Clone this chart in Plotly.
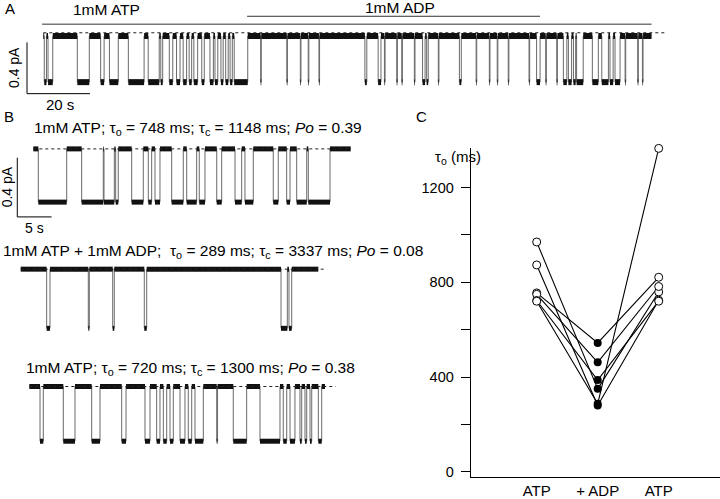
import plotly.graph_objects as go

W, H = 720, 499
FONT = "Liberation Sans, Arial, sans-serif"

# ---------------- data ----------------
# Panel A: closures (s) of a continuous recording
a_end = 193.1
a_closures = [(0.3, 1.0), (1.5, 3.0), (10.8, 14.6), (18.2, 19.3), (21.0, 23.8), (27.0, 32.0),
              (33.3, 36.8), (37.3, 37.9), (40.0, 41.1), (42.3, 43.4), (44.4, 45.5), (46.3, 47.1),
              (47.8, 49.0), (50.3, 51.1), (52.9, 54.0), (54.5, 55.4), (56.4, 57.1), (57.9, 58.7),
              (59.3, 60.0), (60.6, 64.9), (69.0, 69.2), (77.3, 77.5), (81.6, 81.8), (84.1, 84.3),
              (87.5, 87.7), (102.1, 102.7), (106.3, 107.2), (108.3, 108.5), (112.2, 112.4),
              (113.8, 114.0), (117.8, 118.0), (120.4, 121.2), (121.7, 122.2), (125.4, 125.6),
              (132.1, 132.7), (137.4, 137.6), (141.6, 141.8), (144.1, 144.3), (147.6, 147.8),
              (154.2, 154.4), (156.6, 157.7), (159.5, 159.7), (163.0, 163.2), (165.1, 166.2),
              (166.7, 167.7), (168.3, 169.0), (169.3, 171.4), (174.3, 176.2), (177.3, 179.4),
              (179.9, 180.9), (181.5, 183.1), (184.7, 184.9), (188.7, 188.9), (190.2, 190.4)]
a_amp = 0.36
adp_period = (64.7, 157.7)

# Panel B traces
b1_end = 46.2
b1_closures = [(0.73, 4.86), (7.04, 10.19), (10.29, 11.79), (11.99, 12.37), (14.32, 16.01),
               (16.74, 17.23), (17.71, 18.44), (20.14, 21.83), (22.33, 23.78), (24.16, 24.99),
               (26.7, 27.42), (29.36, 30.33), (30.81, 32.02), (34.93, 35.66), (36.88, 37.37),
               (38.34, 39.8), (40.03, 43.19)]
b1_amp = 0.36
b2_end = 43.32
b2_closures = [(3.78, 4.26), (9.84, 9.99), (13.39, 13.62), (17.99, 18.34), (37.89, 38.81), (39.05, 39.45)]
b2_amp = 0.40
b3_end = 43.04
b3_closures = [(1.56, 2.04), (4.95, 6.65), (9.08, 10.29), (13.45, 14.08), (16.84, 17.57),
               (18.54, 19.02), (19.51, 20.0), (20.48, 20.96), (21.94, 22.66), (23.14, 23.64),
               (24.12, 25.33), (27.28, 27.4), (29.69, 31.64), (33.58, 36.49), (36.97, 37.47),
               (37.95, 38.67), (39.4, 39.65), (40.13, 40.38), (40.86, 41.11), (42.07, 42.56)]
b3_amp = 0.37

# Panel C: tau_o (ms) per patch: ATP, ATP+ADP, ATP
conditions = ["ATP", "+ ADP", "ATP"]
tau_atp1 = [970, 873, 755, 749, 723, 720]
tau_adp = [350, 280, 544, 462, 387, 287]
tau_atp2 = [759, 724, 821, 782, 720, 1365]

# ---------------- helpers ----------------
def px(x):
    return x / W

def py(y):
    return 1 - y / H

def step_xy(end, closures, amp):
    xs, ys = [0], [0]
    for a, b in closures:
        xs += [a, a, b, b]
        ys += [0, -amp, -amp, 0]
    xs.append(end)
    ys.append(0)
    return xs, ys

def bands(end, closures, amp):
    ox, oy, cx, cy = [], [], [], []
    prev = 0
    for a, b in closures:
        ox += [prev, a, None]; oy += [0, 0, None]
        cx += [a, b, None]; cy += [-amp, -amp, None]
        prev = b
    ox += [prev, end]; oy += [0, 0]
    return ox, oy, cx, cy

fig = go.Figure()

# trace axes: (suffix, t0 pixel, px per s, open-level pixel, px per pA, ...)
trace_specs = [
    ("", 43.3, 3.15, 36.5, 130, a_end, a_closures, a_amp, 6, 197.5),
    ("2", 33.3, 6.87, 151, 150, b1_end, b1_closures, b1_amp, 5, 46.2),
    ("3", 20.7, 6.87, 273, 150, b2_end, b2_closures, b2_amp, 5, 44.3),
    ("4", 29.3, 6.87, 392, 150, b3_end, b3_closures, b3_amp, 5, 44.6),
]

layout_axes = {}
for suf, t0, sx, oy0, sy, end, clos, amp, bw, dot_end in trace_specs:
    xa = "x" + suf
    ya = "y" + suf
    xs, ys = step_xy(end, clos, amp)
    ox, oy, cx, cy = bands(end, clos, amp)
    fig.add_trace(go.Scatter(x=xs, y=ys, mode="lines", line=dict(color="#6a6a6a", width=1),
                             xaxis=xa, yaxis=ya, showlegend=False, hoverinfo="skip"))
    fig.add_trace(go.Scatter(x=ox, y=oy, mode="lines", line=dict(color="#111", width=bw),
                             xaxis=xa, yaxis=ya, showlegend=False, hoverinfo="skip"))
    fig.add_trace(go.Scatter(x=cx, y=cy, mode="lines", line=dict(color="#111", width=bw),
                             xaxis=xa, yaxis=ya, showlegend=False, hoverinfo="skip"))
    dy = 0.025 if suf == "" else 0
    fig.add_trace(go.Scatter(x=[0, dot_end], y=[dy, dy],
                             mode="lines", line=dict(color="#222", width=1, dash="dot"),
                             xaxis=xa, yaxis=ya, showlegend=False, hoverinfo="skip"))
    layout_axes["xaxis" + suf] = dict(domain=[0, 1], range=[-t0 / sx, (W - t0) / sx], visible=False,
                                      anchor=ya, fixedrange=True)
    layout_axes["yaxis" + suf] = dict(domain=[0, 1], range=[(oy0 - H) / sy, oy0 / sy], visible=False,
                                      anchor=xa, fixedrange=True)

# Panel C
for i in range(len(tau_atp1)):
    fig.add_trace(go.Scatter(x=[0, 1, 2], y=[tau_atp1[i], tau_adp[i], tau_atp2[i]], mode="lines",
                             line=dict(color="black", width=1.1), xaxis="x5", yaxis="y5",
                             showlegend=False, cliponaxis=False, hoverinfo="skip"))
fig.add_trace(go.Scatter(x=[0] * len(tau_atp1) + [2] * len(tau_atp2), y=tau_atp1 + tau_atp2,
                         mode="markers", marker=dict(symbol="circle", size=8, color="white",
                                                     line=dict(color="black", width=1)),
                         xaxis="x5", yaxis="y5", showlegend=False, cliponaxis=False))
fig.add_trace(go.Scatter(x=[1] * len(tau_adp), y=tau_adp, mode="markers",
                         marker=dict(symbol="circle", size=8, color="black"),
                         xaxis="x5", yaxis="y5", showlegend=False, cliponaxis=False))

c_ppu = 0.2403
c_zero_px = 478.5
c_bottom_px = 483.5
c_top_val = 1368
c_top_px = c_zero_px - c_top_val * c_ppu
layout_axes["xaxis5"] = dict(domain=[px(470.7), 1], range=[-66 / 61, (720 - 536.7) / 61],
                             tickvals=[0, 1, 2], ticktext=conditions, showline=True,
                             linecolor="black", linewidth=1, ticks="", showgrid=False,
                             zeroline=False, anchor="y5", tickfont=dict(size=15, family=FONT, color="black"),
                             fixedrange=True)
layout_axes["yaxis5"] = dict(domain=[py(c_bottom_px), py(c_top_px)],
                             range=[(c_zero_px - c_bottom_px) / c_ppu, c_top_val],
                             tickvals=[0, 200, 400, 600, 800, 1000, 1200],
                             ticktext=["0", "", "400", "", "800", "", "1200"],
                             ticks="outside", ticklen=9, tickcolor="black", tickwidth=1,
                             showline=True, linecolor="black", linewidth=1, showgrid=False,
                             zeroline=False, anchor="x5", ticklabelstandoff=4,
                             tickfont=dict(size=14.5, family=FONT, color="black"), fixedrange=True)

# shapes: scale bars and condition bars
shapes = []
line_k = dict(color="black", width=1)
shapes.append(dict(type="line", xref="x", yref="y", x0=-5.17, x1=-5.17, y0=-0.45, y1=-0.05, line=line_k))
shapes.append(dict(type="line", xref="x", yref="y", x0=-5.17, x1=14.83, y0=-0.45, y1=-0.45, line=line_k))
shapes.append(dict(type="line", xref="x", yref="paper", x0=-0.4, x1=a_end, y0=py(24.5), y1=py(24.5),
                   line=dict(color="#333", width=1)))
shapes.append(dict(type="line", xref="x", yref="paper", x0=adp_period[0], x1=adp_period[1],
                   y0=py(16.5), y1=py(16.5), line=dict(color="#333", width=1)))
shapes.append(dict(type="line", xref="x2", yref="y2", x0=-2.33, x1=-2.33, y0=-0.46, y1=-0.06, line=line_k))
shapes.append(dict(type="line", xref="x2", yref="y2", x0=-2.33, x1=2.67, y0=-0.46, y1=-0.46, line=line_k))

ann = []
def text(x, y, s, size=14, xanchor="center", angle=0):
    ann.append(dict(x=px(x), y=py(y), xref="paper", yref="paper", text=s, showarrow=False,
                    xanchor=xanchor, yanchor="middle", textangle=angle,
                    font=dict(size=size, family=FONT, color="black")))

text(3, 9, "A", 15, "left")
text(2, 118, "B", 15, "left")
text(414, 118, "C", 15, "left")
text(106, 10, "1mM ATP", 15.5)
text(400, 8, "1mM ADP", 15.5)
text(14, 69, "0.4 pA", 14, angle=-90)
text(60, 106, "20 s", 15)
text(7, 190, "0.4 pA", 14, angle=-90)
text(34, 231, "5 s", 14)
text(32, 130, "1mM ATP; τ<sub>o</sub> = 748 ms; τ<sub>c</sub> = 1148 ms; <i>Po</i> = 0.39", 15.5, "left")
text(1, 255, "1mM ATP + 1mM ADP;  τ<sub>o</sub> = 289 ms; τ<sub>c</sub> = 3337 ms; <i>Po</i> = 0.08", 15.5, "left")
text(24, 374, "1mM ATP; τ<sub>o</sub> = 720 ms; τ<sub>c</sub> = 1300 ms; <i>Po</i> = 0.38", 15.5, "left")
text(433, 160, "τ<sub>o</sub> (ms)", 15, "left")

fig.update_layout(width=W, height=H, margin=dict(l=0, r=0, t=0, b=0),
                  paper_bgcolor="white", plot_bgcolor="rgba(0,0,0,0)",
                  shapes=shapes, annotations=ann, showlegend=False,
                  font=dict(family=FONT, color="black"), **layout_axes)

fig.write_html("out.html", config={"displayModeBar": False},
               post_script="document.body.style.margin='0';document.body.style.overflow='hidden';")
